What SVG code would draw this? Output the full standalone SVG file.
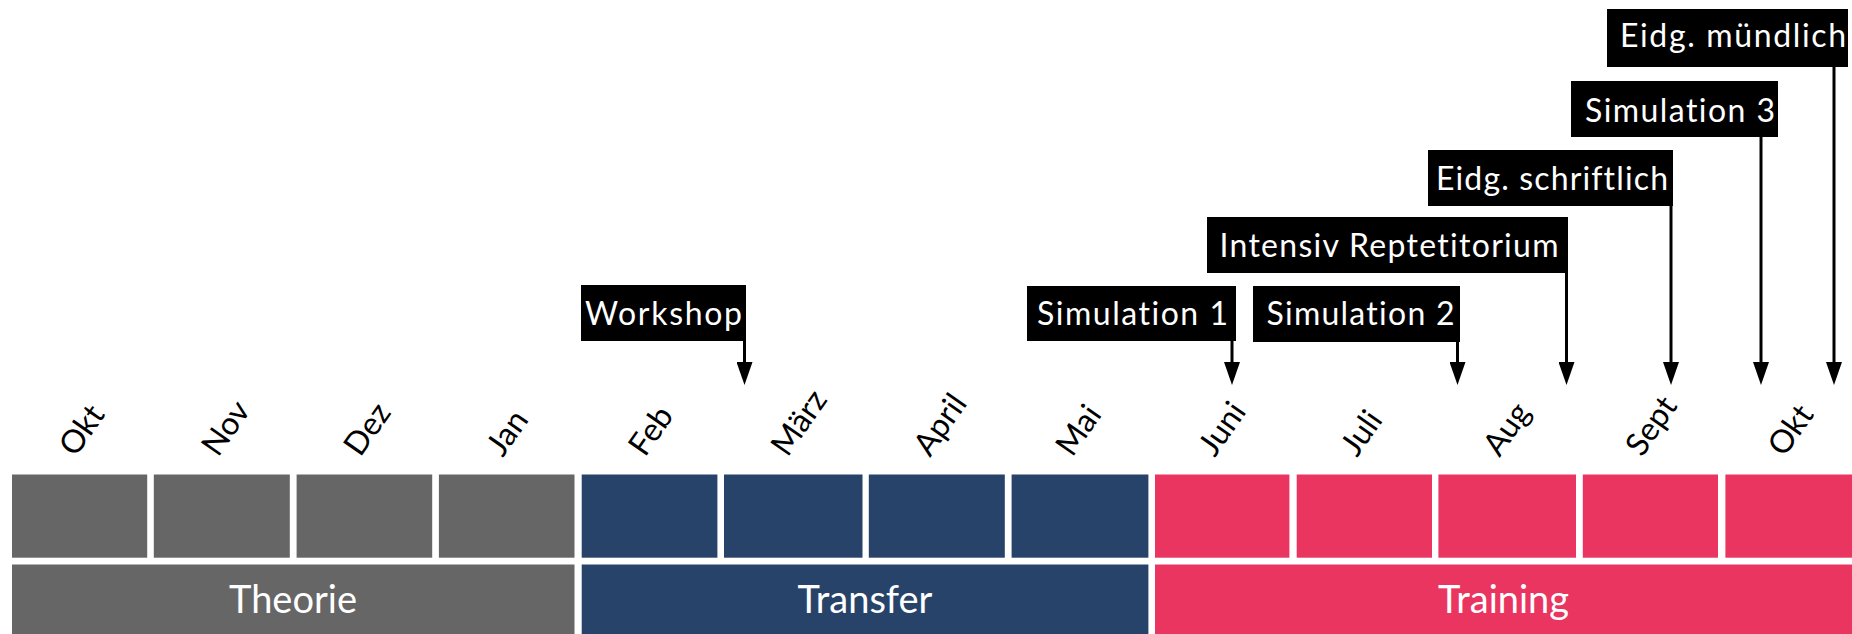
<svg xmlns="http://www.w3.org/2000/svg" width="1852" height="634" viewBox="0 0 1852 634">
<defs>
<style>
.bg{fill:#ffffff}
.th{fill:#666666}
.tr{fill:#27436a}
.tg{fill:#e9355f}
.box{fill:#000000}
text{font-family:Lato,"Noto Sans",sans-serif;font-variant-ligatures:none}
.bt{font-size:32px;fill:#ffffff}
.mt{font-size:32px;fill:#000000}
.pt{font-size:38px;fill:#ffffff;text-anchor:middle}
.ar{stroke:#000000;stroke-width:3;fill:none;marker-end:url(#ah)}
</style>
<marker id="ah" markerUnits="userSpaceOnUse" markerWidth="23" markerHeight="16" viewBox="0 0 23 16" refX="11" refY="8" orient="auto">
<path d="M0,0 L23,8 L0,16 z" fill="#000000"/>
</marker>
</defs>
<rect class="bg" x="0" y="0" width="1852" height="634"/>

<g id="months">
<rect class="th" x="12" y="474.5" width="135.2" height="83.2"/>
<rect class="th" x="153.8" y="474.5" width="136" height="83.2"/>
<rect class="th" x="296.6" y="474.5" width="135.6" height="83.2"/>
<rect class="th" x="438.9" y="474.5" width="135.6" height="83.2"/>
<rect class="tr" x="581.7" y="474.5" width="135.7" height="83.2"/>
<rect class="tr" x="724" y="474.5" width="138.5" height="83.2"/>
<rect class="tr" x="868.8" y="474.5" width="136" height="83.2"/>
<rect class="tr" x="1011.6" y="474.5" width="136.8" height="83.2"/>
<rect class="tg" x="1155" y="474.5" width="134.4" height="83.2"/>
<rect class="tg" x="1296.7" y="474.5" width="135.3" height="83.2"/>
<rect class="tg" x="1438.4" y="474.5" width="137.6" height="83.2"/>
<rect class="tg" x="1582.8" y="474.5" width="135.2" height="83.2"/>
<rect class="tg" x="1725.4" y="474.5" width="126.6" height="83.2"/>
</g>

<g id="month-labels">
<text class="mt" transform="translate(75.5,458) rotate(-55)">Okt</text>
<text class="mt" transform="translate(217.9,458) rotate(-55)">Nov</text>
<text class="mt" transform="translate(360.3,458) rotate(-55)">Dez</text>
<text class="mt" transform="translate(502.7,458) rotate(-55)">Jan</text>
<text class="mt" transform="translate(645.1,458) rotate(-55)">Feb</text>
<text class="mt" transform="translate(787.5,458) rotate(-55)">März</text>
<text class="mt" transform="translate(929.9,458) rotate(-55)">April</text>
<text class="mt" transform="translate(1072.3,458) rotate(-55)">Mai</text>
<text class="mt" transform="translate(1214.7,458) rotate(-55)">Juni</text>
<text class="mt" transform="translate(1357.1,458) rotate(-55)">Juli</text>
<text class="mt" transform="translate(1499.5,458) rotate(-55)">Aug</text>
<text class="mt" transform="translate(1641.9,458) rotate(-55)">Sept</text>
<text class="mt" transform="translate(1784.3,458) rotate(-55)">Okt</text>
</g>

<g id="phase-theorie">
<rect class="th" x="12" y="564.5" width="562.5" height="69.5"/>
<text class="pt" x="293" y="613.3">Theorie</text>
</g>
<g id="phase-transfer">
<rect class="tr" x="581.7" y="564.5" width="566.7" height="69.5"/>
<text class="pt" x="865" y="613.3">Transfer</text>
</g>
<g id="phase-training">
<rect class="tg" x="1155" y="564.5" width="697" height="69.5"/>
<text class="pt" x="1503.5" y="613.3">Training</text>
</g>

<g id="connectors">
<line class="ar" x1="744.5" y1="341" x2="744.5" y2="373"/>
<line class="ar" x1="1232" y1="341" x2="1232" y2="373"/>
<line class="ar" x1="1457.5" y1="342" x2="1457.5" y2="373"/>
<line class="ar" x1="1566.5" y1="273" x2="1566.5" y2="373"/>
<line class="ar" x1="1671" y1="206" x2="1671" y2="373"/>
<line class="ar" x1="1761" y1="137" x2="1761" y2="373"/>
<line class="ar" x1="1834" y1="67" x2="1834" y2="373"/>
</g>

<g id="ev-workshop">
<rect class="box" x="581" y="285" width="165" height="56"/>
<text class="bt" x="585" y="325" textLength="157">Workshop</text>
</g>
<g id="ev-sim1">
<rect class="box" x="1027" y="286" width="209" height="55"/>
<text class="bt" x="1037" y="325" textLength="191">Simulation 1</text>
</g>
<g id="ev-sim2">
<rect class="box" x="1253" y="286" width="207" height="56"/>
<text class="bt" x="1266.5" y="325" textLength="188">Simulation 2</text>
</g>
<g id="ev-intensiv">
<rect class="box" x="1207" y="217" width="361" height="56"/>
<text class="bt" x="1219.5" y="257" textLength="339">Intensiv Reptetitorium</text>
</g>
<g id="ev-schriftlich">
<rect class="box" x="1428" y="150" width="245" height="56"/>
<text class="bt" x="1436" y="190" textLength="232">Eidg. schriftlich</text>
</g>
<g id="ev-sim3">
<rect class="box" x="1571" y="81" width="207" height="56"/>
<text class="bt" x="1585" y="122" textLength="190">Simulation 3</text>
</g>
<g id="ev-muendlich">
<rect class="box" x="1607" y="9" width="241" height="58"/>
<text class="bt" x="1620" y="47" textLength="226">Eidg. mündlich</text>
</g>
</svg>
